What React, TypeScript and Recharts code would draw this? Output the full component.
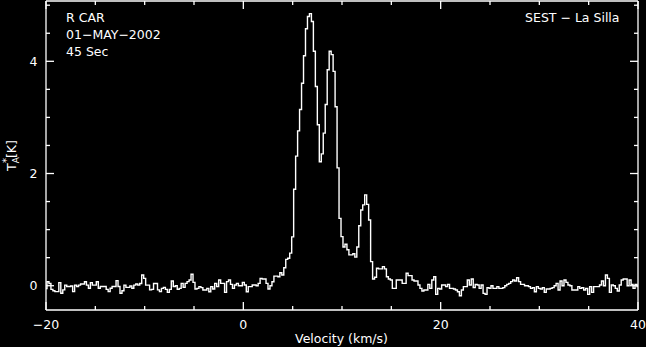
import React from 'react';
import { LineChart, Line, XAxis, YAxis } from 'recharts';

// Spectrum channels: velocity grid start and spacing (km/s)
const V_START = -20;
const V_STEP = 0.2;

// T_A* [K] values
const blueWing = [
  -0.05, 0.07, 0.04, -0.065, -0.09, -0.105, -0.105, 0.055, -0.135, -0.075,
  0.01, -0.015, -0.015, -0.005, -0.105, 0.01, -0.015, 0.01, 0.03, 0.03,
  0.07, 0.01, -0.045, 0.055, 0.01, 0.01, 0.07, -0.045, -0.015, -0.015,
  -0.015, -0.065, -0.105, -0.045, -0.015, -0.015, 0.09, -0.015, -0.135, -0.09,
  0.01, -0.03, -0.03, -0.005, -0.045, 0.01, 0.03, 0.01, 0.04, 0.19,
  0.13, 0.01, 0.01, -0.075, -0.065, 0.04, 0.04, -0.075, -0.105,
  -0.047, -0.029, -0.065, -0.118, -0.065, 0.084, -0.017, 0.0, -0.065, -0.047,
  0.042, -0.029, 0.042, 0.072, 0.102, 0.203, 0.06, -0.059, -0.047, -0.017,
  -0.035, -0.077, -0.077, -0.047, -0.107, -0.017, -0.059, 0.042, -0.017, 0.102,
  0.042, 0.042, -0.118, 0.072, 0.102, 0.024, -0.047, 0.012, 0.042, 0.0,
  0.0, 0.06, 0.012, -0.107, -0.017, -0.017, 0.012, 0.012, 0.0, 0.042,
  0.131, 0.12, 0.12, 0.042, -0.059,
];

const lineCore = [
  0.0, 0.07, 0.17, 0.17, 0.16, 0.23, 0.19, 0.32, 0.47, 0.49,
  0.58, 0.87, 1.72, 2.31, 2.76, 3.14, 3.61, 4.10, 4.58, 4.80,
  4.85, 4.71, 4.18, 3.55, 2.87, 2.21, 2.35, 2.72, 3.23, 3.85,
  4.18, 4.12, 3.82, 3.19, 2.10, 1.2, 0.875, 0.69, 0.74, 0.64,
  0.55, 0.55, 0.57, 0.51, 0.69, 1.07, 1.35, 1.44, 1.62, 1.45,
  1.17, 0.43, 0.12, 0.15, 0.31, 0.30, 0.30, 0.34, 0.3, 0.16, 0.12,
];

const redWing = [
  0.102, -0.047, -0.047, 0.102, 0.102, 0.102, 0.042, 0.042, 0.221, 0.18,
  0.18, 0.102, 0.084, 0.084, 0.012, -0.047, -0.095, -0.077, -0.077, 0.024,
  -0.047, 0.102, 0.161, -0.154, -0.047, -0.059, 0.012, 0.012, -0.017, 0.024,
  -0.047, -0.047, -0.059, -0.077, -0.107, -0.178, -0.077, -0.017, -0.017, 0.102,
  0.012, 0.12, -0.035,
  0.024, 0.012, -0.047, 0.012, -0.136, -0.154, -0.035, -0.047, 0.0, -0.047,
  -0.047, -0.017, -0.047, -0.047, -0.035, 0.0, 0.024, 0.042, 0.072, 0.102,
  0.084, 0.143, 0.072, 0.024, 0.024, 0.0, 0.0, -0.017, -0.047, -0.035,
  -0.107, -0.017, -0.047, -0.059, -0.035, -0.118, -0.059, -0.059, -0.047, -0.035,
  0.0, 0.042, -0.077, 0.084, 0.0,
  0.102, 0.06, 0.012, 0.0, -0.077, -0.077, -0.077, -0.017, -0.047, -0.035,
  -0.077, -0.047, -0.154, -0.017, -0.118, -0.017, -0.017, -0.017, 0.012, 0.084,
  0.0, 0.19, 0.131, -0.118, 0.012, 0.0, -0.047, -0.095, 0.012, 0.102,
  0.12, 0.12, 0.0, 0.102, 0.024, -0.047, 0.024, -0.017,
];

const xTicks = [-20, -15, -10, -5, 0, 5, 10, 15, 20, 25, 30, 35, 40];
const xMajor = [-20, 0, 20, 40];
const yTicks = [0, 0.5, 1, 1.5, 2, 2.5, 3, 3.5, 4, 4.5, 5];
const yMajor = [0, 2, 4];
const headerLines = ['R CAR', '01−MAY−2002', '45 Sec'];
const telescope = 'SEST − La Silla';
const xTitle = 'Velocity (km/s)';

const temps = [...blueWing, ...lineCore, ...redWing];
const data = temps.map((t, i) => ({ v: Math.round((V_START + i * V_STEP) * 100) / 100, t }));

const FONT = '"DejaVu Sans", Verdana, sans-serif';
const FS = 12.5;
const W = 646;
const H = 347;
// plot box: x 46..638, y 1..310 (axes take 1px each)
const M = { top: 0, right: 7, bottom: 36, left: 45 };
const SW = 1.3;

const fmt = (n: number) => (n < 0 ? '−' + Math.abs(n) : String(n));

const BottomTick = (p: any) => {
  const { x, y, payload } = p;
  const major = xMajor.includes(payload.value);
  return (
    <g>
      <line x1={x} x2={x} y1={y} y2={y - (major ? 8 : 4)} stroke="#fff" strokeWidth={SW} />
      {major && (
        <text x={x} y={y + 18.5} textAnchor="middle" fill="#fff" fontSize={FS} fontFamily={FONT}>
          {fmt(payload.value)}
        </text>
      )}
    </g>
  );
};

const TopTick = (p: any) => {
  const { x, y, payload } = p;
  const major = xMajor.includes(payload.value);
  return <line x1={x} x2={x} y1={y} y2={y + (major ? 8 : 4)} stroke="#fff" strokeWidth={SW} />;
};

const LeftTick = (p: any) => {
  const { x, y, payload } = p;
  const major = yMajor.includes(payload.value);
  return (
    <g>
      <line x1={x} x2={x + (major ? 8 : 4)} y1={y} y2={y} stroke="#fff" strokeWidth={SW} />
      {major && (
        <text x={x - 8.5} y={y + 4.6} textAnchor="end" fill="#fff" fontSize={FS} fontFamily={FONT}>
          {fmt(payload.value)}
        </text>
      )}
    </g>
  );
};

const RightTick = (p: any) => {
  const { x, y, payload } = p;
  const major = yMajor.includes(payload.value);
  return <line x1={x} x2={x - (major ? 8 : 4)} y1={y} y2={y} stroke="#fff" strokeWidth={SW} />;
};

const axisLine = { stroke: '#fff', strokeWidth: SW };

export default function App() {
  return (
    <div style={{ position: 'fixed', left: 0, top: 0, width: W, height: H, background: '#000', overflow: 'hidden' }}>
      <LineChart width={W} height={H} data={data} margin={M}>
        <XAxis
          dataKey="v"
          type="number"
          domain={[-20, 40]}
          ticks={xTicks}
          interval={0}
          height={1}
          tickSize={0}
          tickMargin={0}
          tickLine={false}
          axisLine={axisLine}
          tick={<BottomTick />}
          allowDataOverflow
        />
        <XAxis
          xAxisId="top"
          orientation="top"
          dataKey="v"
          type="number"
          domain={[-20, 40]}
          ticks={xTicks}
          interval={0}
          height={1}
          tickSize={0}
          tickMargin={0}
          tickLine={false}
          axisLine={axisLine}
          tick={<TopTick />}
          allowDataOverflow
        />
        <YAxis
          type="number"
          domain={[-0.433, 5.075]}
          ticks={yTicks}
          interval={0}
          width={1}
          tickSize={0}
          tickMargin={0}
          tickLine={false}
          axisLine={axisLine}
          tick={<LeftTick />}
          allowDataOverflow
        />
        <YAxis
          yAxisId="right"
          orientation="right"
          type="number"
          domain={[-0.433, 5.075]}
          ticks={yTicks}
          interval={0}
          width={1}
          tickSize={0}
          tickMargin={0}
          tickLine={false}
          axisLine={axisLine}
          tick={<RightTick />}
          allowDataOverflow
        />
        <Line
          type="step"
          dataKey="t"
          stroke="#fff"
          strokeWidth={1.4}
          dot={false}
          activeDot={false}
          isAnimationActive={false}
        />
      </LineChart>
      <svg
        width={W}
        height={H}
        style={{ position: 'absolute', left: 0, top: 0, pointerEvents: 'none' }}
        fontFamily={FONT}
        fontSize={FS}
        fill="#fff"
      >
        {headerLines.map((s, i) => (
          <text key={s} x={66} y={22 + i * 17}>
            {s}
          </text>
        ))}
        <text x={619.5} y={22} textAnchor="end">
          {telescope}
        </text>
        <text x={341.5} y={343} textAnchor="middle">
          {xTitle}
        </text>
        <text transform="translate(15.5,155.5) rotate(-90)" textAnchor="middle">
          <tspan>T</tspan>
          <tspan fontSize={9} dy={3}>A</tspan>
          <tspan fontSize={10} dx={-6} dy={-9}>*</tspan>
          <tspan dy={6}>[K]</tspan>
        </text>
      </svg>
    </div>
  );
}
